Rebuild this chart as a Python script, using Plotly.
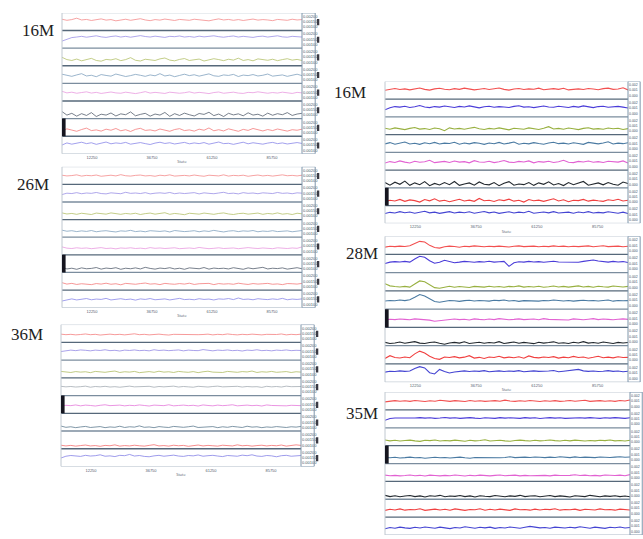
import plotly.graph_objects as go

# ---------------- data (values in % of each strip's height) ----------------
ITER_STEP = 2000
PANEL_LABELS = ["16M", "26M", "36M", "16M", "28M", "35M"]
X_TICK_VALS = [12250, 36750, 61250, 85750]
X_TICK_TEXT = ["12250", "36750", "61250", "85750"]
Y_TICK_TEXT_LEFT = ["0.00200", "0.00150", "0.00100"]
Y_TICK_TEXT_RIGHT = ["0.002", "0.001", "0.000"]
X_TITLE = "State"

TRACE_16M_A = [
    [64,58,62,70,60,63,57,61,66,59,62,55,60,64,58,61,67,60,56,62,59,65,61,57,63,60,58,64,62,59,55,61,66,60,63,58,62,57,61,65,59,62,60,56,63,61,58,64,60,62],
    [40,52,60,63,67,62,66,70,64,61,66,69,63,67,62,65,71,66,63,68,64,61,67,65,69,63,66,62,68,64,67,70,65,62,66,69,63,67,64,61,66,68,63,65,70,64,62,67,65,63],
    [48,35,30,38,28,34,42,30,26,36,33,40,29,35,46,31,27,37,34,30,39,44,32,28,36,41,30,34,38,27,33,40,35,29,37,32,43,30,35,28,39,33,31,37,29,35,40,32,36,30],
    [52,44,40,48,55,42,46,38,50,45,41,53,47,39,44,51,46,40,48,43,55,42,47,38,45,52,44,49,41,46,54,43,40,48,45,51,39,47,44,50,42,46,53,41,45,48,40,47,52,44],
    [55,46,50,44,48,52,45,49,43,47,51,46,44,50,48,42,47,53,45,49,46,43,50,48,44,47,52,45,49,46,42,48,51,44,47,50,45,43,49,47,52,46,44,48,45,50,47,43,49,46],
    [40,20,30,14,28,18,34,12,25,20,32,15,27,22,38,16,24,30,14,26,20,35,13,28,18,31,22,15,29,24,36,17,26,12,30,21,27,16,33,20,25,14,31,19,28,22,34,18,26,30],
    [30,42,35,28,38,46,32,36,29,40,34,44,31,37,27,39,45,33,36,30,41,35,28,38,43,32,36,29,40,34,47,31,37,30,42,35,28,39,33,44,36,30,38,32,41,35,29,37,34,40],
    [50,62,55,60,66,58,63,54,61,67,57,62,59,65,55,60,64,58,53,61,66,59,63,56,60,65,57,62,58,64,55,61,67,58,60,54,62,66,57,63,59,55,61,65,58,62,56,60,64,59],
]
TRACE_26M = [
    [52,48,50,54,47,51,49,53,46,50,52,48,55,49,47,51,53,48,50,46,52,49,54,47,50,51,48,53,49,46,52,50,48,54,47,51,49,52,46,50,53,48,51,47,50,54,49,51,48,52],
    [42,50,48,53,47,51,49,54,48,46,52,50,47,55,49,51,48,53,46,50,52,49,54,47,51,48,50,53,46,52,49,47,51,55,48,50,46,53,49,51,47,52,50,48,54,49,51,47,52,50],
    [38,32,35,30,36,33,29,37,34,31,38,33,30,35,32,36,29,34,37,31,33,39,30,35,32,28,36,34,31,37,33,30,35,38,32,29,34,36,31,33,37,30,35,32,38,31,34,29,36,33],
    [40,34,37,32,36,33,38,31,35,37,33,30,36,34,39,32,35,31,37,34,33,36,30,38,35,32,34,37,31,36,33,39,34,30,35,37,32,36,34,38,31,35,33,37,32,34,36,31,35,38],
    [45,38,36,40,37,39,35,38,41,36,38,34,39,37,40,36,38,35,41,37,39,36,38,40,35,37,39,36,42,38,35,37,40,36,38,39,35,37,41,38,36,39,37,35,40,38,36,39,37,45],
    [30,20,24,18,26,21,23,28,19,25,22,27,18,24,21,26,20,29,23,19,25,22,27,20,24,18,26,23,21,28,19,25,22,24,20,27,23,18,26,21,25,29,20,24,22,26,19,23,27,21],
    [42,34,38,32,36,35,31,37,34,39,33,36,30,38,35,33,37,40,34,36,31,38,35,33,37,34,39,32,36,35,38,31,37,34,36,33,39,35,32,37,34,36,38,33,35,31,37,36,34,38],
    [38,46,50,44,48,52,45,49,47,53,44,48,51,46,49,43,50,47,52,45,48,50,44,49,53,46,48,45,51,47,49,44,50,48,52,46,55,47,49,45,51,48,46,50,47,53,45,49,47,50],
]
TRACE_36M = [
    [46,43,45,42,44,47,43,45,41,44,46,43,45,42,44,48,43,45,42,44,46,43,41,45,44,47,42,45,43,44,46,42,45,43,47,44,42,45,43,46,44,42,45,43,44,47,42,45,43,46],
    [48,54,56,53,57,55,52,56,54,58,53,55,51,56,54,57,53,55,52,58,54,56,53,55,57,52,56,54,53,59,55,52,56,54,57,53,55,51,56,54,58,53,55,52,56,54,57,53,55,54],
    [36,33,30,35,32,34,29,36,33,31,35,38,30,34,32,36,29,33,35,31,37,32,34,30,36,33,31,35,29,34,37,32,33,30,36,34,31,35,33,38,30,34,32,36,31,33,35,30,34,32],
    [52,49,51,48,50,53,47,51,49,52,48,50,47,51,53,49,50,48,52,47,51,49,50,53,48,51,49,47,52,50,48,51,53,49,50,47,52,48,51,49,50,46,52,49,51,48,53,50,49,51],
    [40,45,43,47,42,46,44,41,45,48,43,44,46,42,45,43,47,44,41,46,45,43,48,42,44,46,43,45,41,47,44,42,46,43,45,48,42,44,46,43,45,41,47,44,43,46,42,45,44,43],
    [28,21,24,19,23,26,20,22,25,19,23,21,27,20,24,22,29,21,23,19,25,22,20,26,23,21,24,28,20,23,22,25,19,24,21,26,23,20,27,22,24,19,23,21,25,22,20,24,22,26],
    [20,16,19,15,18,21,16,18,14,19,17,22,15,18,16,20,17,15,19,23,16,18,15,20,17,19,14,18,21,16,19,17,15,20,18,16,22,17,19,15,18,20,16,19,17,21,15,18,22,19],
    [48,58,62,60,57,63,59,61,66,58,60,56,63,61,68,59,62,57,55,60,63,58,61,64,59,57,62,60,65,58,61,63,59,56,62,60,58,64,61,66,59,57,62,60,55,61,63,58,60,62],
]
TRACE_16M_B = [
    [50,56,60,54,58,52,57,63,55,51,58,61,56,53,59,55,62,57,52,56,60,54,58,63,55,51,57,60,54,58,56,62,53,57,59,55,61,52,56,58,54,60,57,53,59,62,55,57,64,52],
    [40,52,58,55,60,53,57,64,56,52,58,55,61,57,53,59,56,62,55,51,57,60,54,58,56,53,59,63,55,57,52,58,61,56,54,60,57,53,59,55,62,56,52,58,60,54,57,59,55,50],
    [36,30,38,33,28,35,40,31,34,29,37,33,22,38,32,35,30,36,41,33,29,35,32,38,31,27,36,33,30,38,34,29,36,45,32,35,30,37,33,28,35,39,31,34,30,37,33,36,29,34],
    [48,55,46,52,58,47,51,45,54,49,56,47,52,50,57,46,53,48,55,51,45,53,49,56,47,52,58,46,51,48,55,50,46,53,57,49,52,47,54,50,45,56,51,48,53,60,47,52,49,54],
    [40,48,43,52,45,40,50,44,47,55,42,46,49,43,51,45,48,41,53,46,44,50,42,47,54,45,43,49,46,52,41,48,45,50,43,47,55,44,42,49,46,51,44,48,43,50,47,45,52,40],
    [30,15,32,20,38,14,28,18,35,12,25,16,30,18,36,14,22,28,15,33,20,17,30,12,26,35,15,22,18,30,14,28,20,34,16,24,13,30,18,25,36,15,22,28,17,30,20,15,33,24],
    [22,30,26,35,24,32,28,20,34,27,38,25,30,22,29,36,26,31,24,40,27,30,23,33,28,36,25,30,20,34,27,31,24,29,38,26,33,22,30,28,35,25,31,27,24,33,29,36,26,30],
    [55,62,58,66,60,64,57,62,68,59,63,56,61,66,58,63,60,65,57,62,67,59,64,56,61,65,58,63,60,68,57,62,64,59,66,58,61,63,57,64,60,66,58,62,59,65,61,57,63,55],
]
TRACE_28M = [
    [40,45,43,46,44,48,60,72,68,50,38,35,42,46,44,40,45,43,47,44,42,45,43,46,44,41,45,47,43,44,46,42,45,43,47,44,46,42,45,43,44,47,42,45,48,43,44,46,42,45],
    [50,58,61,59,62,58,75,90,85,66,52,57,68,60,55,58,62,60,57,61,59,63,58,60,62,35,55,60,58,62,59,61,57,60,63,59,58,61,60,57,62,66,70,64,60,58,62,59,61,56],
    [40,28,24,22,25,21,38,55,50,32,18,15,22,26,20,24,22,19,25,23,21,26,22,24,20,25,23,28,21,24,22,26,20,23,27,22,25,21,24,28,22,25,20,26,23,21,27,24,22,25],
    [45,48,46,50,47,52,65,80,72,55,42,38,44,48,46,43,47,49,45,48,46,44,49,47,50,45,48,43,47,46,49,44,48,46,50,47,45,48,44,47,49,46,48,45,47,50,44,48,46,47],
    [42,45,43,46,44,42,47,45,43,40,34,38,42,44,46,43,45,41,47,44,42,46,43,48,45,42,44,47,43,45,46,42,48,44,43,46,45,41,47,44,42,45,48,43,46,44,42,45,47,44],
    [18,12,15,20,13,16,22,14,12,17,20,13,8,15,18,14,21,12,16,19,13,17,15,22,12,16,20,13,18,15,11,19,14,17,21,13,16,12,19,15,22,14,17,13,20,16,12,18,15,17],
    [30,45,35,32,38,34,55,70,60,42,30,25,38,35,40,33,37,45,32,36,30,38,35,42,33,37,34,39,31,44,36,33,38,35,40,32,37,34,41,35,38,31,36,42,34,37,33,39,35,36],
    [55,60,58,62,59,61,75,85,78,52,45,70,58,50,56,60,62,58,61,59,63,57,60,62,58,61,59,63,57,60,62,59,58,61,64,57,60,62,66,70,62,59,61,58,60,63,59,61,57,60],
]
TRACE_35M = [
    [45,50,52,49,51,48,53,50,47,51,49,54,50,48,52,50,47,53,49,51,48,50,52,49,55,50,48,51,49,53,50,47,51,49,52,48,50,53,49,51,54,48,50,52,49,51,48,53,50,56],
    [42,52,55,54,56,53,55,57,54,56,53,55,58,54,56,53,55,57,54,52,56,55,53,57,54,56,55,53,57,54,56,52,55,57,54,56,53,55,58,56,54,57,55,53,56,54,57,55,53,56],
    [32,27,30,26,29,31,27,24,30,28,32,26,29,27,31,28,25,30,27,29,33,26,28,30,27,25,29,31,28,26,30,27,29,32,28,26,30,27,31,28,26,29,27,30,28,32,27,29,26,30],
    [34,32,35,31,33,36,32,34,30,33,35,32,34,31,33,36,32,30,34,33,35,31,33,32,34,38,33,35,36,34,37,35,33,36,34,38,35,33,37,34,36,35,33,37,35,34,36,38,35,37],
    [35,32,34,31,33,36,32,34,30,35,33,31,34,32,36,33,30,34,32,35,33,31,34,36,32,33,35,31,34,32,33,36,34,31,35,33,32,34,37,33,35,32,34,31,36,34,33,35,32,38],
    [22,15,20,14,18,21,15,19,13,20,17,22,14,18,16,21,15,19,13,20,17,15,21,18,14,19,16,22,15,18,20,14,17,21,15,19,16,13,20,18,15,22,17,14,19,16,20,15,18,14],
    [38,44,40,46,39,43,41,47,38,42,45,40,44,39,46,42,38,43,41,47,39,44,40,45,42,38,46,41,43,39,45,40,44,42,47,39,43,41,45,38,44,42,40,46,41,43,39,45,42,40],
    [35,42,38,44,40,37,43,39,45,41,38,44,40,36,42,39,46,41,38,43,40,44,37,42,39,45,41,38,43,48,44,40,42,38,44,41,39,43,40,46,42,38,44,40,37,43,41,45,39,42],
]
PANEL_DATA = [TRACE_16M_A, TRACE_26M, TRACE_36M, TRACE_16M_B, TRACE_28M, TRACE_35M]

# ---------------- styling / layout ----------------
W, H = 643, 539
LEFT_COLORS = ["#f48c8c", "#9a90e6", "#b4c06a", "#82a2bf", "#e89ae0", "#56606e", "#f47c7c", "#8a88e8"]
P3_COLORS = ["#f48080", "#948ae4", "#b0bc64", "#a4acb4", "#e47ada", "#5f7c90", "#f47070", "#8482e6"]
RIGHT_COLORS = ["#f25050", "#4a3cd8", "#98b040", "#4a7aa2", "#e262d2", "#22282e", "#f04040", "#4444d2"]
PANEL_COLORS = [LEFT_COLORS, LEFT_COLORS, P3_COLORS, RIGHT_COLORS, RIGHT_COLORS, RIGHT_COLORS]
PANEL_PX = [(62, 302, 13, 155), (62, 302, 168, 310), (61, 301, 327, 470),
            (385, 628, 82, 225), (385, 628, 238, 385), (385, 630, 395, 539)]
LABEL_PX = [(38, 31), (33, 186), (27, 337), (350, 93), (362, 255), (362, 417)]
SELECTED_STRIP = [6, 5, 4, 6, 4, 3]
N_STRIPS = 8

fig = go.Figure()
shapes = []
annotations = []
for p, (x0, x1, y0, y1) in enumerate(PANEL_PX):
    k = "" if p == 0 else str(p + 1)
    xa, ya = "x" + k, "y" + k
    left = p < 3
    lw = 0.8 if left else 1.1
    for s, vals in enumerate(PANEL_DATA[p]):
        fig.add_trace(go.Scatter(
            x=[i * ITER_STEP for i in range(len(vals))],
            y=[(N_STRIPS - 1 - s) + v / 100 for v in vals],
            mode="lines", line=dict(color=PANEL_COLORS[p][s], width=lw),
            xaxis=xa, yaxis=ya, showlegend=False, hoverinfo="skip"))
    ytext = Y_TICK_TEXT_LEFT if left else Y_TICK_TEXT_RIGHT
    ytv, ytt = [], []
    for s in range(N_STRIPS):
        for j, off in enumerate((0.8, 0.5, 0.2)):
            ytv.append(s + off)
            ytt.append(ytext[j])
    fig.layout["xaxis" + k] = dict(
        domain=[x0 / W, x1 / W], anchor=ya, range=[0, 98000],
        tickvals=X_TICK_VALS, ticktext=X_TICK_TEXT, showticklabels=(p != 5),
        tickfont=dict(size=4, color="#556070", family="Liberation Sans"),
        ticks="", showgrid=False, zeroline=False, showline=False,
        title=dict(text=X_TITLE if p != 5 else "", font=dict(size=4, color="#556070"), standoff=1))
    fig.layout["yaxis" + k] = dict(
        domain=[1 - y1 / H, 1 - y0 / H], anchor=xa, range=[0, N_STRIPS], side="right",
        tickvals=ytv, ticktext=ytt, ticks="",
        tickfont=dict(size=4 if left else 3.5, color="#445566", family="Liberation Sans"),
        showgrid=False, zeroline=False, showline=False)
    # strip dividers
    for b in range(0, N_STRIPS + 1):
        if b == N_STRIPS:
            col, w = "#c8d0d8", 1
        elif b == 0:
            col, w = "#b0bcc8", 1
        else:
            col, w = ("#56687a" if b % 2 else "#7b8d9e"), 1.3
        shapes.append(dict(type="line", xref=xa + " domain", yref=ya, x0=0, x1=1,
                           y0=b, y1=b, line=dict(color=col, width=w)))
    # left axis line
    shapes.append(dict(type="line", xref=xa + " domain", yref=ya, x0=0, x1=0,
                       y0=0, y1=N_STRIPS, line=dict(color="#c0c8d0", width=1)))
    # right tick label box
    box_w = 0.055 if left else 0.05
    shapes.append(dict(type="rect", xref=xa + " domain", yref=ya, x0=1, x1=1 + box_w,
                       y0=0, y1=N_STRIPS, line=dict(color="#7f96ac", width=1)))
    # selected strip marker
    ss = SELECTED_STRIP[p]
    shapes.append(dict(type="rect", xref=xa + " domain", yref=ya, x0=0, x1=0.015,
                       y0=N_STRIPS - 1 - ss, y1=N_STRIPS - ss,
                       fillcolor="#15151f", line=dict(width=0)))
    # small dark markers at the right of left-column panels
    if left:
        for s in range(N_STRIPS):
            shapes.append(dict(type="rect", xref=xa + " domain", yref=ya, x0=1.062, x1=1.072,
                               y0=s + 0.3, y1=s + 0.65, fillcolor="#3a3a44", line=dict(width=0)))
    lx, ly = LABEL_PX[p]
    annotations.append(dict(text=PANEL_LABELS[p], x=lx / W, y=1 - ly / H, xref="paper", yref="paper",
                            xanchor="center", yanchor="middle", showarrow=False,
                            font=dict(family="Liberation Serif", size=17, color="#1e1e1e")))

fig.update_layout(width=W, height=H, margin=dict(l=0, r=0, t=0, b=0),
                  paper_bgcolor="white", plot_bgcolor="white",
                  shapes=shapes, annotations=annotations, showlegend=False)
fig.write_html("out.html", config={"displayModeBar": False},
               post_script="document.body.style.margin='0';document.body.style.overflow='hidden';")
